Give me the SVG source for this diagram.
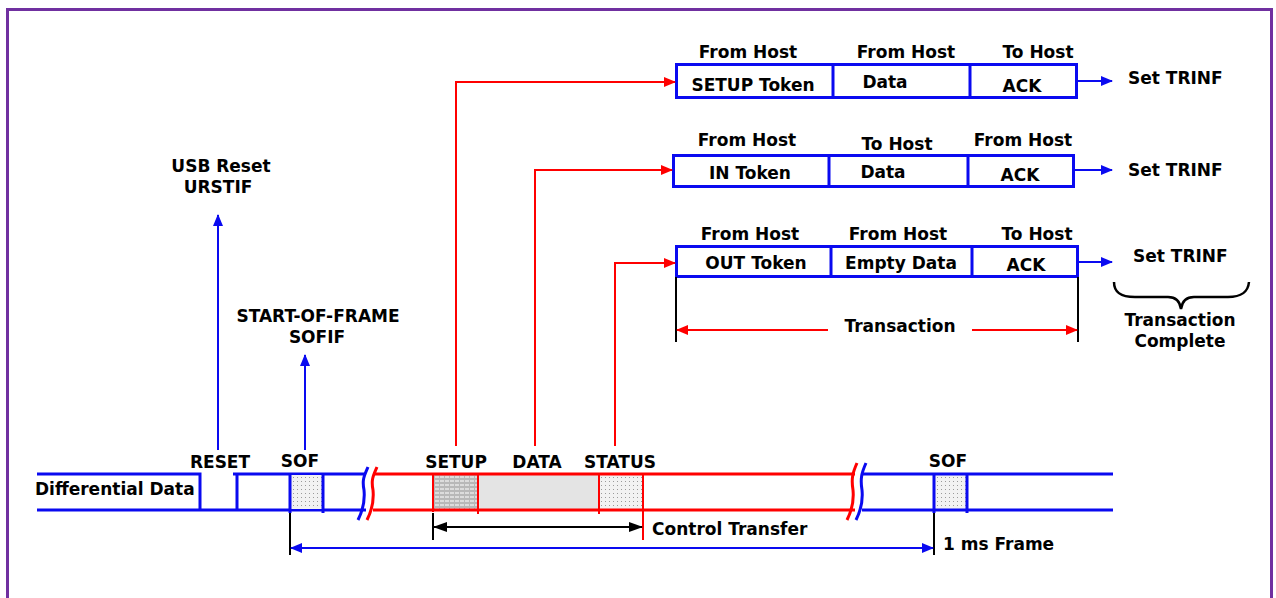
<svg xmlns="http://www.w3.org/2000/svg" width="1276" height="598" viewBox="0 0 1276 598">
<style>
text{font-family:"DejaVu Sans","Liberation Sans",sans-serif;font-weight:bold;font-size:17px;fill:#000}
.m{text-anchor:middle}
.box{fill:#fff;stroke:#0a0af0;stroke-width:3}
.div{stroke:#0a0af0;stroke-width:3}
.bl{stroke:#0a0af0;stroke-width:3;fill:none}
.rd{stroke:#ff0000;stroke-width:3;fill:none}
.rc{stroke:#ff0000;stroke-width:2;fill:none}
.bc{stroke:#0a0af0;stroke-width:2;fill:none}
.kc{stroke:#000;stroke-width:2;fill:none}
</style>
<defs>
<marker id="ar" viewBox="0 0 12 10" refX="11" refY="5" markerWidth="12" markerHeight="10" markerUnits="userSpaceOnUse" orient="auto-start-reverse"><path d="M0,0 L12,5 L0,10 z" fill="#ff0000"/></marker>
<marker id="ab" viewBox="0 0 12 10" refX="11" refY="5" markerWidth="12" markerHeight="10" markerUnits="userSpaceOnUse" orient="auto-start-reverse"><path d="M0,0 L12,5 L0,10 z" fill="#0a0af0"/></marker>
<marker id="ak" viewBox="0 0 14 10" refX="13" refY="5" markerWidth="14" markerHeight="10" markerUnits="userSpaceOnUse" orient="auto-start-reverse"><path d="M0,0 L14,5 L0,10 z" fill="#000"/></marker>
<pattern id="dots" width="4" height="4" patternUnits="userSpaceOnUse"><rect width="4" height="4" fill="#f2f2f2"/><rect x="1" y="1" width="1" height="1" fill="#9a9a9a"/></pattern>
<pattern id="grid" width="5" height="4" patternUnits="userSpaceOnUse"><rect width="5" height="4" fill="#b8b8b8"/><rect x="0" y="0" width="4" height="2" fill="#dcdcdc"/></pattern>
</defs>
<rect x="7.5" y="9.5" width="1264" height="600" fill="#fff" stroke="#7030a0" stroke-width="3"/>

<g id="timeline">
<path class="bl" d="M37,474 H200 V510 M37,510 H366 M233,474 H366 M237,474 V510"/>
<rect x="290" y="475" width="33" height="34" fill="url(#dots)"/>
<path class="bl" d="M290,474 V513 M323,474 V513" stroke-width="2"/>
<path class="bl" d="M368,467 C364,476 362,480 364,490 C365,500 362,512 358,520"/>
<rect x="433" y="475" width="45" height="34" fill="url(#grid)"/>
<rect x="478" y="475" width="121" height="34" fill="#e4e4e4"/>
<rect x="599" y="475" width="44" height="34" fill="url(#dots)"/>
<path class="rd" d="M373,474 H855 M373,510 H855"/>
<path class="rd" d="M377,467 C373,476 371,480 373,490 C374,500 371,512 367,520"/>
<path class="rd" d="M857,463 C853,472 851,478 853,490 C854,500 851,512 847,520"/>
<path class="rc" d="M433,474 V512 M478,474 V514 M599,474 V514 M643,474 V540"/>
<path class="bl" d="M866,463 C862,472 860,478 862,490 C863,500 860,512 856,520"/>
<rect x="934" y="475" width="33" height="34" fill="url(#dots)"/>
<path class="bl" d="M862,474 H1113 M862,510 H1113"/>
<path class="bl" d="M934,474 V513 M967,474 V513" stroke-width="2"/>
<path class="kc" d="M290,513 V555 M934,513 V555 M433,513 V540"/>
<text x="35" y="495">Differential Data</text>
<text class="m" x="220" y="468">RESET</text>
<text class="m" x="300" y="467">SOF</text>
<text class="m" x="456" y="468">SETUP</text>
<text class="m" x="537" y="468">DATA</text>
<text class="m" x="620" y="468">STATUS</text>
<text class="m" x="948" y="467">SOF</text>
<text x="652" y="535">Control Transfer</text>
<text x="943" y="550">1 ms Frame</text>
</g>

<g id="usb-reset">
<text class="m" x="221" y="172">USB Reset</text>
<text class="m" x="218" y="193">URSTIF</text>
</g>
<g id="sof-label">
<text class="m" x="318" y="322">START-OF-FRAME</text>
<text class="m" x="317" y="343">SOFIF</text>
</g>

<g id="setup-transaction">
<rect class="box" x="676.5" y="64.5" width="400" height="33"/>
<path class="div" d="M833,64 V98 M970,64 V98"/>
<text class="m" x="748" y="58">From Host</text>
<text class="m" x="906" y="58">From Host</text>
<text class="m" x="1038" y="58">To Host</text>
<text class="m" x="753" y="91">SETUP Token</text>
<text class="m" x="885" y="88">Data</text>
<text class="m" x="1022" y="92">ACK</text>
<text x="1128" y="84">Set TRINF</text>
</g>

<g id="in-transaction">
<rect class="box" x="673.5" y="155.5" width="400" height="31"/>
<path class="div" d="M829,155 V187 M968,155 V187"/>
<text class="m" x="747" y="146">From Host</text>
<text class="m" x="897" y="150">To Host</text>
<text class="m" x="1023" y="146">From Host</text>
<text class="m" x="750" y="179">IN Token</text>
<text class="m" x="883" y="178">Data</text>
<text class="m" x="1020" y="181">ACK</text>
<text x="1128" y="176">Set TRINF</text>
</g>

<g id="out-transaction">
<rect class="box" x="676.5" y="246.5" width="401" height="30"/>
<path class="div" d="M831,246 V277 M972,246 V277"/>
<text class="m" x="750" y="240">From Host</text>
<text class="m" x="898" y="240">From Host</text>
<text class="m" x="1037" y="240">To Host</text>
<text class="m" x="756" y="269">OUT Token</text>
<text class="m" x="901" y="269">Empty Data</text>
<text class="m" x="1026" y="271">ACK</text>
<text x="1133" y="262">Set TRINF</text>
<text class="m" x="900" y="332">Transaction</text>
</g>

<g id="transaction-complete">
<path d="M1114,282 C1114,292 1120,297 1135,297 L1168,297 C1176,297 1180,302 1181,309 C1182,302 1186,297 1194,297 L1228,297 C1242,297 1248,292 1249,282" fill="none" stroke="#000" stroke-width="2.5"/>
<text class="m" x="1180" y="326">Transaction</text>
<text class="m" x="1180" y="347">Complete</text>
</g>

<g id="connectors">
<path class="rc" d="M456,446 V82 H675" marker-end="url(#ar)"/>
<path class="rc" d="M535,446 V170 H672" marker-end="url(#ar)"/>
<path class="rc" d="M615,446 V263 H675" marker-end="url(#ar)"/>
<path class="bc" d="M218,450 V215" marker-end="url(#ab)"/>
<path class="bc" d="M305,450 V355" marker-end="url(#ab)"/>
<path class="bc" d="M1077,81 H1112" marker-end="url(#ab)"/>
<path class="bc" d="M1074,170 H1112" marker-end="url(#ab)"/>
<path class="bc" d="M1078,262 H1112" marker-end="url(#ab)"/>
<path class="kc" d="M676,277 V342 M1078,277 V342"/>
<path class="rc" d="M828,330 H677" marker-end="url(#ar)"/>
<path class="rc" d="M972,330 H1077" marker-end="url(#ar)"/>
<path class="kc" d="M434,527 H642" marker-start="url(#ak)" marker-end="url(#ak)"/>
<path class="bc" d="M291,548 H933" marker-start="url(#ab)" marker-end="url(#ab)"/>
</g>
</svg>
